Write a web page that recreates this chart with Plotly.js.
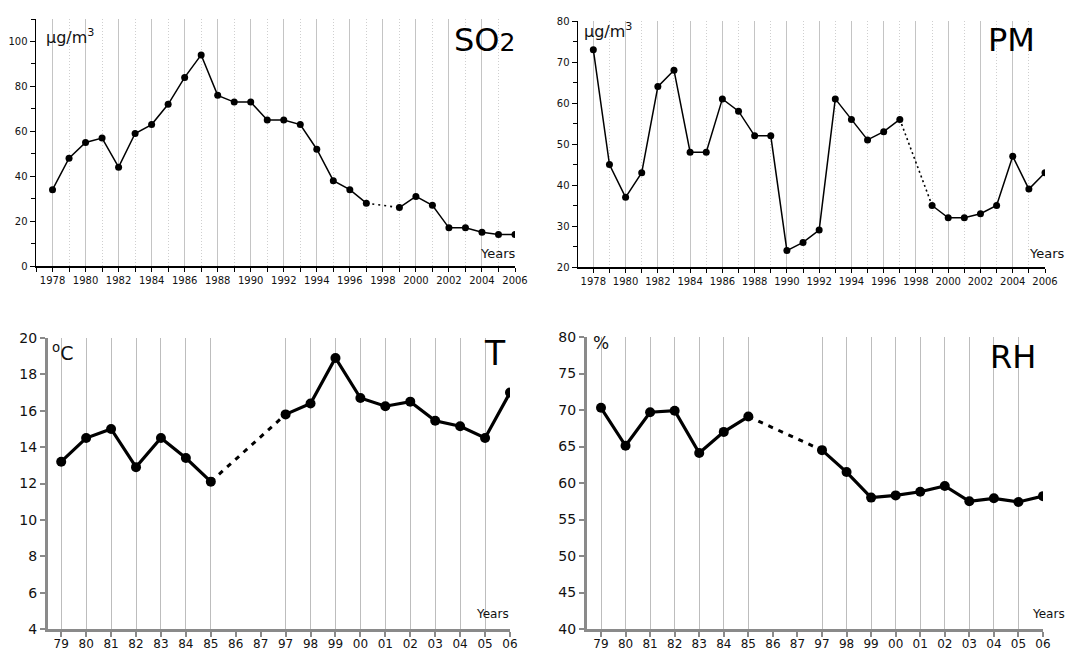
<!DOCTYPE html>
<html><head><meta charset="utf-8">
<script src="https://cdn.plot.ly/plotly-3.0.1.min.js"></script>
<style>html,body{margin:0;padding:0;background:#fff}#chart{width:1067px;height:653px}</style>
</head><body><div id="chart"></div>
<script>
// ---- data ----
const years = [1978,1979,1980,1981,1982,1983,1984,1985,1986,1987,1988,1989,1990,1991,1992,1993,1994,1995,1996,1997,1998,1999,2000,2001,2002,2003,2004,2005,2006];
const so2 = [34,48,55,57,44,59,63,72,84,94,76,73,73,65,65,63,52,38,34,28,null,26,31,27,17,17,15,14,14];
const pm  = [73,45,37,43,64,68,48,48,61,58,52,52,24,26,29,61,56,51,53,56,null,35,32,32,33,35,47,39,43];
const catLabels = ['79','80','81','82','83','84','85','86','87','97','98','99','00','01','02','03','04','05','06'];
const temp = [13.2,14.5,15.0,12.9,14.5,13.4,12.1,null,null,15.8,16.4,18.9,16.7,16.25,16.5,15.45,15.15,14.5,17.0];
const rh   = [70.3,65.1,69.7,69.9,64.1,67.0,69.1,null,null,64.5,61.5,58.0,58.3,58.8,59.6,57.5,57.9,57.4,58.2];

// ---- helpers ----
function gapBridge(xs, ys){
  let i = ys.findIndex(v => v === null);
  let a = i - 1, b = i;
  while (b < ys.length && ys[b] === null) b++;
  return {x:[xs[a], xs[b]], y:[ys[a], ys[b]]};
}
const idx = catLabels.map((_, i) => i);
const gridIdx = idx.filter(i => temp[i] !== null);

const F = 'DejaVu Sans, Verdana, sans-serif';
const W = 1067, H = 653;
const px = v => v / W, py = v => 1 - v / H;

const so2B = gapBridge(years, so2), pmB = gapBridge(years, pm);
const tB = gapBridge(idx, temp), rhB = gapBridge(idx, rh);

const topLine = {color:'#000', width:1.5};
const topMark = {color:'#000', size:7};
const botLine = {color:'#000', width:3.2};
const botMark = {color:'#000', size:10};

const traces = [
  {x:years, y:so2, xaxis:'x', yaxis:'y', mode:'lines+markers', line:topLine, marker:topMark, connectgaps:false},
  {x:so2B.x, y:so2B.y, xaxis:'x', yaxis:'y', mode:'lines', line:{color:'#000', width:1.6, dash:'2px,4px'}},
  {x:years, y:pm, xaxis:'x2', yaxis:'y2', mode:'lines+markers', line:topLine, marker:topMark, connectgaps:false},
  {x:pmB.x, y:pmB.y, xaxis:'x2', yaxis:'y2', mode:'lines', line:{color:'#000', width:1.6, dash:'2px,3px'}},
  {x:idx, y:temp, xaxis:'x3', yaxis:'y3', mode:'lines+markers', line:botLine, marker:botMark, connectgaps:false},
  {x:tB.x, y:tB.y, xaxis:'x5', yaxis:'y3', mode:'lines', line:{color:'#000', width:3, dash:'5px,6px'}},
  {x:idx, y:rh, xaxis:'x4', yaxis:'y4', mode:'lines+markers', line:botLine, marker:botMark, connectgaps:false},
  {x:rhB.x, y:rhB.y, xaxis:'x6', yaxis:'y4', mode:'lines', line:{color:'#000', width:3, dash:'5px,6px'}}
];

function topX(dom, range, anchor){
  return {domain:dom, range:range, anchor:anchor, tick0:1978, dtick:2, ticks:'outside', ticklen:4, tickwidth:1, tickcolor:'#000',
    showgrid:true, gridcolor:'#c4c4c4', gridwidth:1, zeroline:false, showline:true, linecolor:'#000', linewidth:1.5,
    tickfont:{family:F, size:10, color:'#111'},
    minor:{tick0:1978, dtick:1, ticks:'outside', ticklen:4, tickcolor:'#000', showgrid:true, gridcolor:'#cfcfcf', griddash:'1px,2px', gridwidth:1}};
}
function topY(dom, range, dt, anchor){
  return {domain:dom, range:range, anchor:anchor, dtick:dt, ticks:'outside', ticklen:5, tickcolor:'#000', showgrid:false, zeroline:false,
    showline:true, linecolor:'#000', linewidth:1.5, tickfont:{family:F, size:10, color:'#111'},
    minor:{dtick:dt/2, ticks:'outside', ticklen:4, tickcolor:'#000', showgrid:false}};
}
function botX(dom, range, anchor){
  return {domain:dom, range:range, anchor:anchor, tickmode:'array', tickvals:idx, ticktext:catLabels, ticks:'outside', ticklen:5, tickwidth:2,
    tickcolor:'#8a8a8a', showgrid:false, zeroline:false, showline:true, linecolor:'#8a8a8a', linewidth:3, ticklabelstandoff:-3,
    tickfont:{family:F, size:12, color:'#111'}};
}
function gridX(over, range, anchor){
  return {overlaying:over, range:range, anchor:anchor, tickmode:'array', tickvals:gridIdx, ticktext:gridIdx.map(i => catLabels[i]),
    showticklabels:false, ticks:'', showgrid:true, gridcolor:'#bdbdbd', gridwidth:1, zeroline:false, showline:false};
}
function botY(dom, range, dt, anchor){
  return {domain:dom, range:range, anchor:anchor, dtick:dt, ticks:'outside', ticklen:5, tickwidth:2, tickcolor:'#8a8a8a', showgrid:false,
    zeroline:false, showline:true, linecolor:'#8a8a8a', linewidth:3, tickfont:{family:F, size:14, color:'#111'}};
}

const tR = [-0.53, 18], rR = [-0.57, 18];
const layout = {
  width:W, height:H, margin:{l:0, r:0, t:0, b:0}, showlegend:false,
  paper_bgcolor:'#fff', plot_bgcolor:'#fff',
  xaxis: topX([px(36), px(515)], [1977, 2006], 'y'),
  yaxis: topY([py(266), py(19)], [0, 110], 20, 'x'),
  xaxis2: topX([px(578), px(1045)], [1977.05, 2006], 'y2'),
  yaxis2: topY([py(267), py(21)], [20, 80], 10, 'x2'),
  xaxis3: botX([px(48), px(510)], tR, 'y3'),
  yaxis3: botY([py(629), py(338)], [4, 20], 2, 'x3'),
  xaxis4: botX([px(587), px(1043)], rR, 'y4'),
  yaxis4: botY([py(629), py(337)], [40, 80], 5, 'x4'),
  xaxis5: gridX('x3', tR, 'y3'),
  xaxis6: gridX('x4', rR, 'y4'),
  annotations: [
    {text:'SO<span style="font-size:25px">2</span>', xref:'paper', yref:'paper', x:px(517), y:py(40), xanchor:'right', yanchor:'middle', showarrow:false, font:{family:F, size:32, color:'#000'}},
    {text:'PM', xref:'paper', yref:'paper', x:px(1037), y:py(40), xanchor:'right', yanchor:'middle', showarrow:false, font:{family:F, size:32, color:'#000'}},
    {text:'T', xref:'paper', yref:'paper', x:px(508), y:py(353), xanchor:'right', yanchor:'middle', showarrow:false, font:{family:F, size:33, color:'#000'}},
    {text:'RH', xref:'paper', yref:'paper', x:px(1038), y:py(357), xanchor:'right', yanchor:'middle', showarrow:false, font:{family:F, size:32, color:'#000'}},
    {text:'μg/m<sup>3</sup>', xref:'paper', yref:'paper', x:px(44), y:py(37), xanchor:'left', yanchor:'middle', showarrow:false, font:{family:F, size:16, color:'#111'}},
    {text:'μg/m<sup>3</sup>', xref:'paper', yref:'paper', x:px(582), y:py(30), xanchor:'left', yanchor:'middle', showarrow:false, font:{family:F, size:16, color:'#111'}},
    {text:'<sup>o</sup>C', xref:'paper', yref:'paper', x:px(50), y:py(352), xanchor:'left', yanchor:'middle', showarrow:false, font:{family:F, size:19, color:'#111'}},
    {text:'%', xref:'paper', yref:'paper', x:px(591), y:py(343), xanchor:'left', yanchor:'middle', showarrow:false, font:{family:F, size:17, color:'#111'}},
    {text:'Years', xref:'paper', yref:'paper', x:px(518), y:py(253), xanchor:'right', yanchor:'middle', showarrow:false, font:{family:F, size:13, color:'#111'}},
    {text:'Years', xref:'paper', yref:'paper', x:px(1067), y:py(253), xanchor:'right', yanchor:'middle', showarrow:false, font:{family:F, size:13, color:'#111'}},
    {text:'Years', xref:'paper', yref:'paper', x:px(511), y:py(614), xanchor:'right', yanchor:'middle', showarrow:false, font:{family:F, size:12, color:'#111'}},
    {text:'Years', xref:'paper', yref:'paper', x:px(1067), y:py(614), xanchor:'right', yanchor:'middle', showarrow:false, font:{family:F, size:12, color:'#111'}}
  ]
};
Plotly.newPlot('chart', traces, layout, {staticPlot:true, displayModeBar:false});
</script>
</body></html>
